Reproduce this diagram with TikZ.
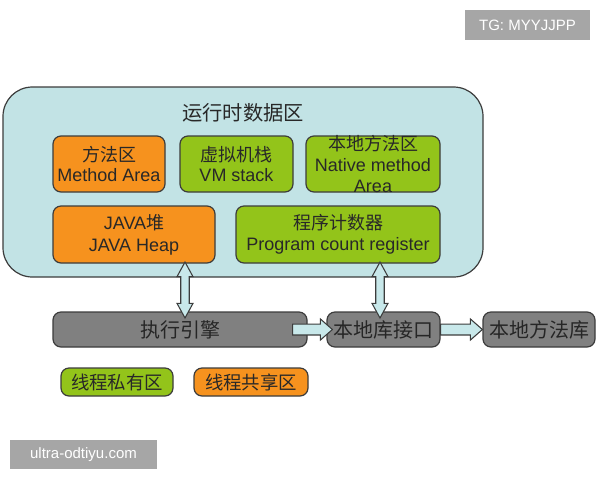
\documentclass[tikz,border=0pt]{standalone}
\usepackage{fontspec}
\setmainfont{Liberation Sans}
\newfontfamily\cjk{Noto Sans CJK SC}
\usetikzlibrary{calc}
\definecolor{rtfill}{RGB}{194,227,229}
\definecolor{orfill}{RGB}{246,146,30}
\definecolor{grfill}{RGB}{147,196,26}
\definecolor{gyfill}{RGB}{128,128,128}
\definecolor{bordc}{RGB}{60,60,60}
\definecolor{arfill}{RGB}{200,232,234}
\definecolor{wmfill}{RGB}{166,166,166}
\definecolor{txtc}{RGB}{40,40,40}
\newcommand\vdarrow[2]{%
 \path[arrowbody] let \p1=(#1), \p2=(#2) in
 (\x1,\y1) -- (\x1+6pt,\y1-11pt) -- (\x1+3.2pt,\y1-11pt) -- (\x1+3.2pt,\y2+11pt)
 -- (\x1+6pt,\y2+11pt) -- (\x1,\y2) -- (\x1-6pt,\y2+11pt) -- (\x1-3.2pt,\y2+11pt)
 -- (\x1-3.2pt,\y1-11pt) -- (\x1-6pt,\y1-11pt) -- cycle;}
\newcommand\hsarrow[2]{%
 \path[arrowbody] let \p1=(#1), \p2=(#2) in
 (\x1,\y1+4.1pt) -- (\x2-9pt,\y1+4.1pt) -- (\x2-9pt,\y1+7.9pt) -- (\x2,\y1)
 -- (\x2-9pt,\y1-7.9pt) -- (\x2-9pt,\y1-4.1pt) -- (\x1,\y1-4.1pt) -- cycle;}
\tikzset{
 box/.style={draw=bordc, line width=0.9pt, rounded corners=6pt, inner sep=0pt,
   align=center, text=txtc, font=\fontsize{13.5}{15.5}\selectfont},
 orbox/.style={box, fill=orfill},
 grbox/.style={box, fill=grfill},
 gybox/.style={box, fill=gyfill, text=black!85, font=\fontsize{15}{17}\selectfont\cjk},
 legbox/.style={box, fill=#1, font=\fontsize{13.8}{16}\selectfont\cjk},
 wm/.style={fill=wmfill, text=white, inner sep=0pt, font=\fontsize{11.25}{13}\selectfont},
 arrowbody/.style={draw=bordc, line width=0.8pt, fill=arfill, line join=miter},
}
\begin{document}
\begin{tikzpicture}[x=0.75pt,y=-0.75pt]
\useasboundingbox (0,0) rectangle (600,480);
% runtime data area
\node[draw=bordc, line width=0.9pt, fill=rtfill, rounded corners=22pt,
  minimum width=360pt, minimum height=142.5pt] (rt) at (243,182) {};
\node[font=\fontsize{15.2}{17}\selectfont\cjk, text=txtc] (title) at (243,113) {运行时数据区};
\node[orbox, minimum width=84pt, minimum height=42pt] (ma) at (109,164)
  {{\cjk 方法区}\\Method Area};
\node[grbox, minimum width=84.75pt, minimum height=42pt] (vm) at (236.5,164)
  {{\cjk 虚拟机栈}\\VM stack};
\node[grbox, minimum width=100.5pt, minimum height=42pt,
  label={[align=center, text=txtc, font=\fontsize{13.5}{16}\selectfont]center:{\cjk 本地方法区}\\Native method\\Area}] (nm) at (373,164) {};
\node[orbox, minimum width=121.5pt, minimum height=42.75pt] (heap) at (134,234.5)
  {JAVA{\cjk 堆}\\[1pt]JAVA Heap};
\node[grbox, minimum width=153pt, minimum height=42.75pt] (pc) at (338,234.5)
  {{\cjk 程序计数器}\\Program count register};
% execution
\node[gybox, minimum width=190.5pt, minimum height=26.25pt] (ee) at (180,329.5) {执行引擎};
\node[gybox, minimum width=84.75pt, minimum height=26.25pt] (nli) at (383.5,329.5) {本地库接口};
\node[gybox, minimum width=84pt, minimum height=26.25pt] (nml) at (539,329.5) {本地方法库};
% legend
\node[legbox=grfill, minimum width=84pt, minimum height=21pt] (leg1) at (117,382) {线程私有区};
\node[legbox=orfill, minimum width=85.5pt, minimum height=21pt] (leg2) at (251,382) {线程共享区};
% watermarks
\node[wm, minimum width=93.75pt, minimum height=22.5pt] (tg) at (527.5,25) {TG: MYYJJPP};
\node[wm, minimum width=110.25pt, minimum height=21.75pt] (url) at (83.5,454.5) {ultra-odtiyu.com};
% arrows
\coordinate (v1t) at (185,262);
\coordinate (v1b) at (185,318);
\coordinate (v2t) at (380,262);
\coordinate (v2b) at (380,318);
\vdarrow{v1t}{v1b}
\vdarrow{v2t}{v2b}
\hsarrow{[xshift=-11.25pt]ee.east}{[xshift=4.5pt]nli.west}
\hsarrow{nli.east}{nml.west}
\end{tikzpicture}
\end{document}
